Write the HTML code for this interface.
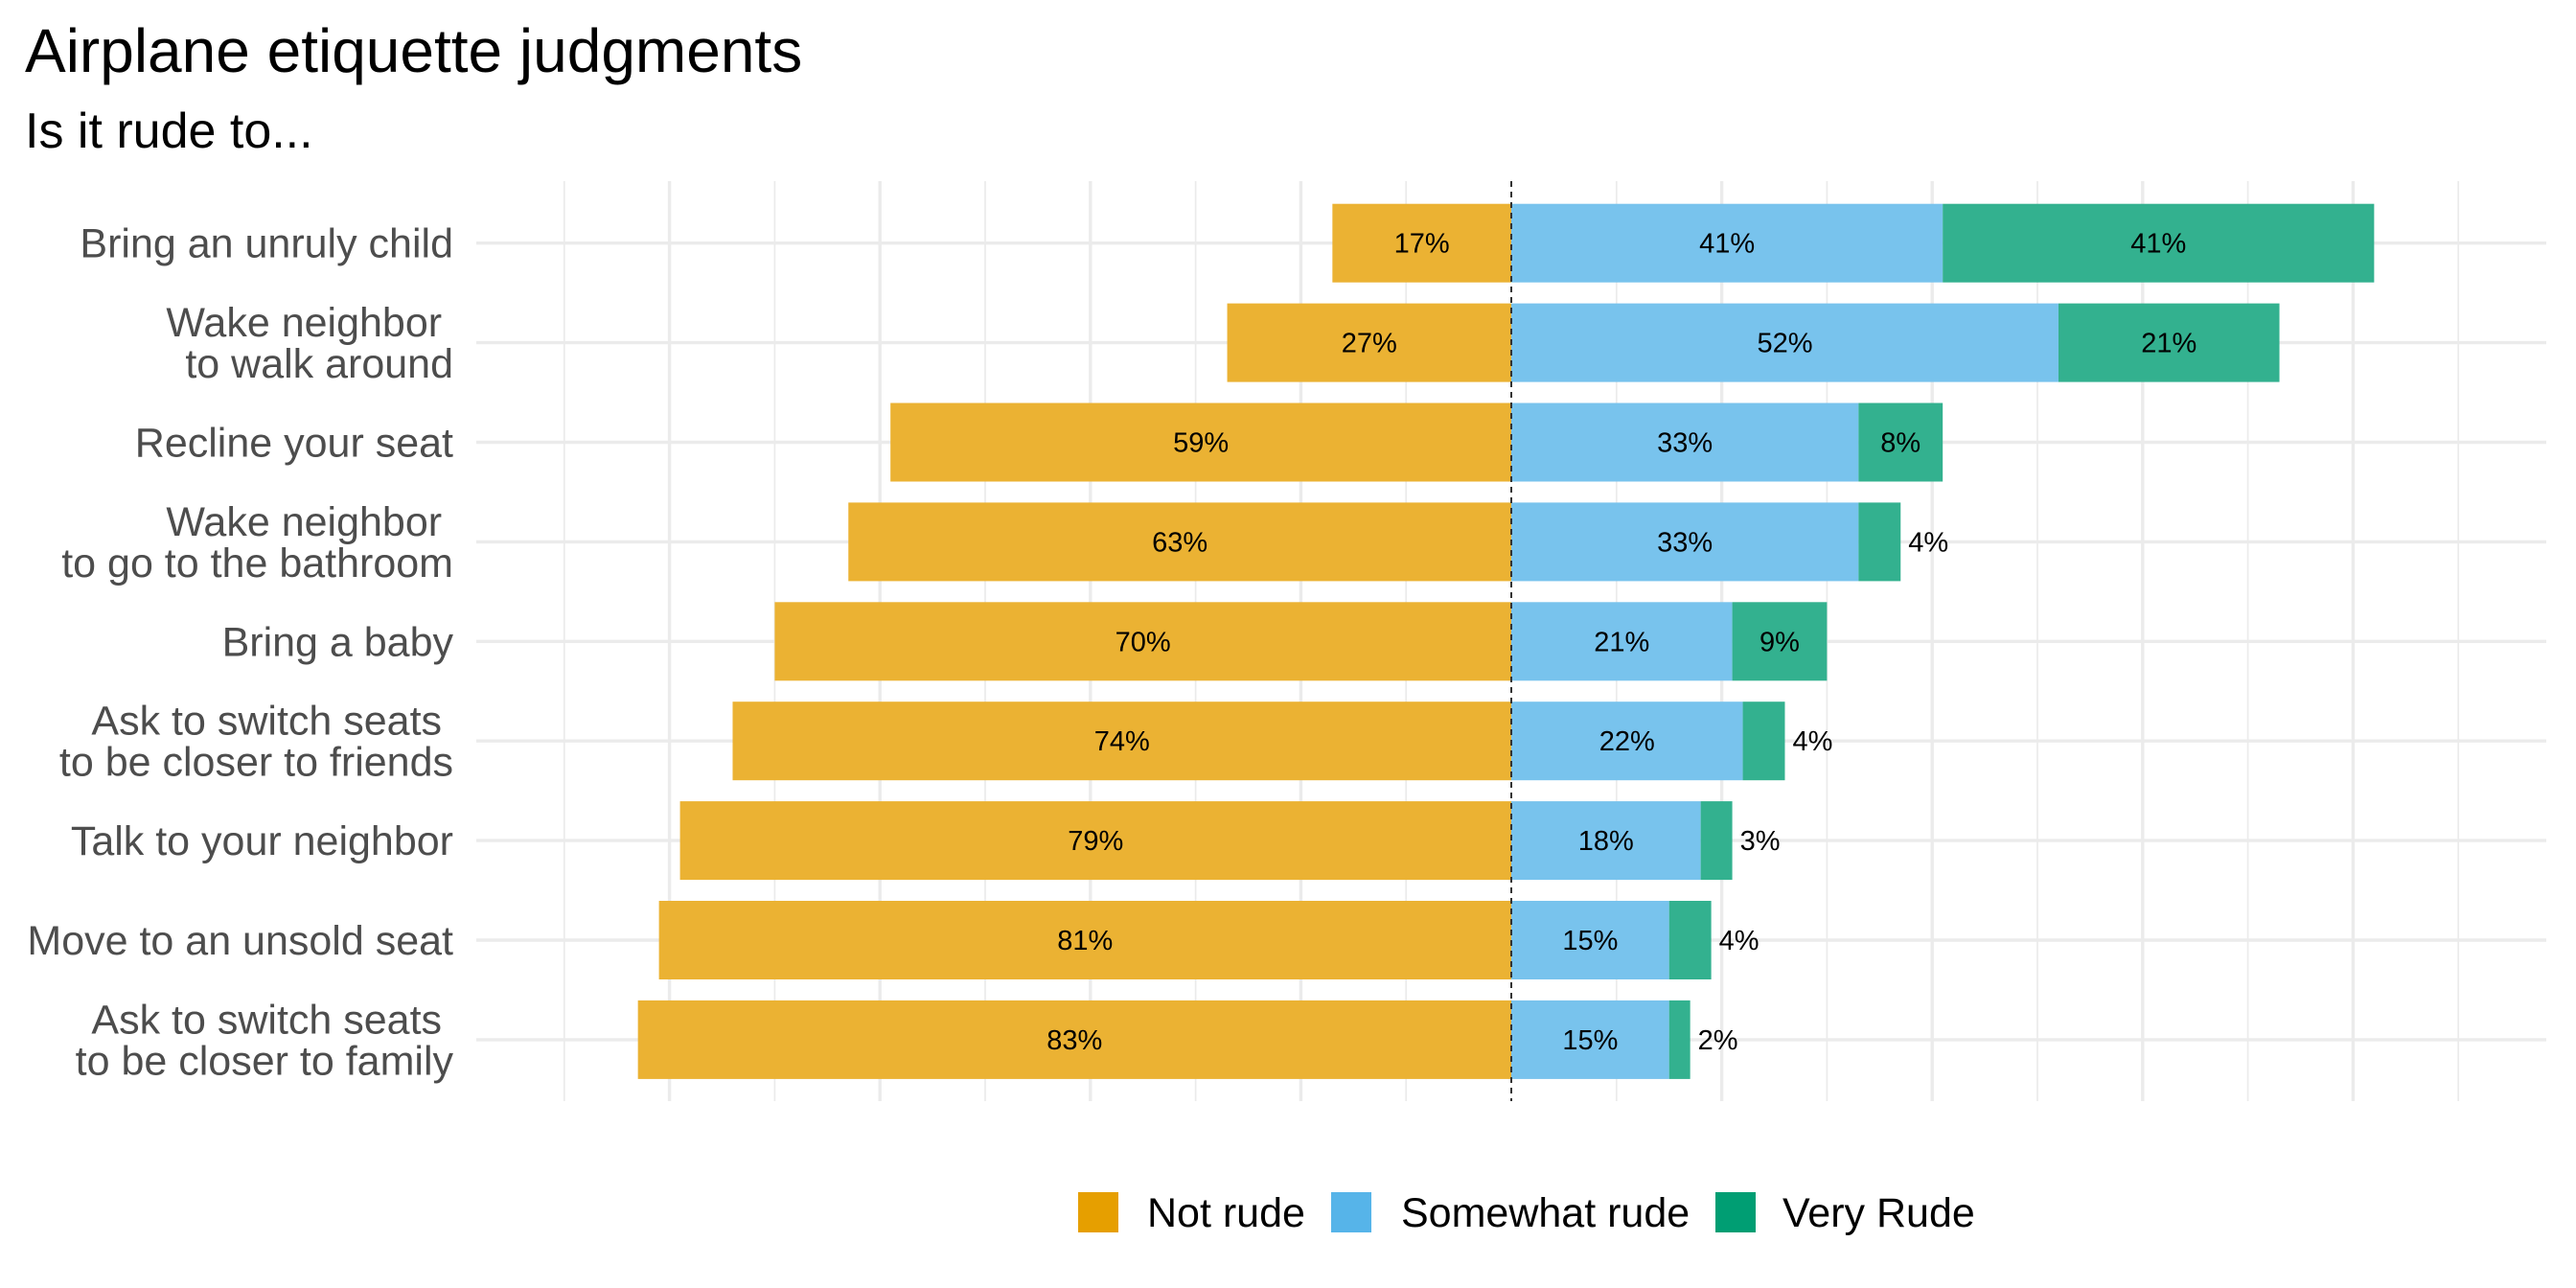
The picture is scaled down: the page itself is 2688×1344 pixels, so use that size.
<!DOCTYPE html>
<html><head><meta charset="utf-8"><style>
html,body{margin:0;padding:0;background:#fff;}
svg{display:block;font-family:"Liberation Sans",Arial,sans-serif;}
</style></head><body>
<svg id="chart" width="2688" height="1344" viewBox="0 0 2688 1344" xmlns="http://www.w3.org/2000/svg">
<rect width="2688" height="1344" fill="#fff"/>
<text x="26" y="75" font-size="64" fill="#000">Airplane etiquette judgments</text>
<text x="26" y="154" font-size="52" fill="#000">Is it rude to...</text>
<g id="grid"></g>
<g id="bars"></g>
<g id="ylabels"></g>
<g id="legend"></g>
</svg>
<script>
const categories = [["Bring an unruly child"],["Wake neighbor ","to walk around"],["Recline your seat"],["Wake neighbor ","to go to the bathroom"],["Bring a baby"],["Ask to switch seats ","to be closer to friends"],["Talk to your neighbor"],["Move to an unsold seat"],["Ask to switch seats ","to be closer to family"]];
const notRude = [17,27,59,63,70,74,79,81,83];
const somewhatRude = [41,52,33,33,21,22,18,15,15];
const veryRude = [41,21,8,4,9,4,3,4,2];
const seriesNames = ["Not rude","Somewhat rude","Very Rude"];

const NS="http://www.w3.org/2000/svg";
const x0=1577, pxPer=10.98, y0=253.7, rowH=103.9, barH=82;
const plotL=497, plotR=2657, plotT=189, plotB=1149;
const xs=v=>x0+v*pxPer;
const ys=i=>y0+i*rowH;
function mk(tag,attrs,parent){const e=document.createElementNS(NS,tag);for(const k in attrs)e.setAttribute(k,attrs[k]);parent.appendChild(e);return e;}
const grid=document.getElementById('grid'),bars=document.getElementById('bars'),yl=document.getElementById('ylabels'),lg=document.getElementById('legend');
for(let v=-90;v<=90;v+=10){
  if(v===0)continue;
  const major=(v%20===0);
  const l=mk('line',{x1:xs(v),x2:xs(v),y1:plotT,y2:plotB,stroke:'#ebebeb','stroke-width':major?3.4:1.7},grid);
  
  
}
categories.forEach((c,i)=>{
  const l=mk('line',{x1:plotL,x2:plotR,y1:ys(i),y2:ys(i),stroke:'#ebebeb','stroke-width':3.4},grid);
  
  
});
const colors=['#EBB233','#78C3ED','#33B18F'];
categories.forEach((c,i)=>{
  const y=ys(i);
  const segs=[[-notRude[i],0,notRude[i]],[0,somewhatRude[i],somewhatRude[i]],[somewhatRude[i],somewhatRude[i]+veryRude[i],veryRude[i]]];
  segs.forEach((s,k)=>{
    const a=xs(s[0]),b=xs(s[1]);
    const r=mk('rect',{x:a,y:y-barH/2,width:b-a,height:barH,fill:colors[k]},bars);
    
    
    const outside=(k===2&&s[2]<5);
    const t=mk('text',{x:outside?b+8:(a+b)/2,y:y+10,'font-size':29,fill:'#000','text-anchor':outside?'start':'middle'},bars);
    t.textContent=s[2]+'%';
    
    
  });
  const t=mk('text',{x:473,'font-size':43,fill:'#4d4d4d','text-anchor':'end'},yl);
  
  
  const n=c.length;
  c.forEach((line,j)=>{
    const ts=mk('tspan',{x:473,y:y+15+(j-(n-1)/2)*43},t);
    ts.textContent=line;
  });
});
const zl=mk('line',{x1:x0,x2:x0,y1:plotT,y2:plotB,stroke:'#333','stroke-width':2,'stroke-dasharray':'6,5'},bars);


const keyX=[1125,1389,1790], txtX=[1197,1462,1860], full=['#E69F00','#56B4E9','#009E73'];
seriesNames.forEach((n,k)=>{
  const r=mk('rect',{x:keyX[k],y:1244,width:42,height:42,fill:full[k]},lg);
  
  
  const t=mk('text',{x:txtX[k],y:1280,'font-size':43,fill:'#000'},lg);
  t.textContent=n;
  
  
});
</script>
</body></html>
